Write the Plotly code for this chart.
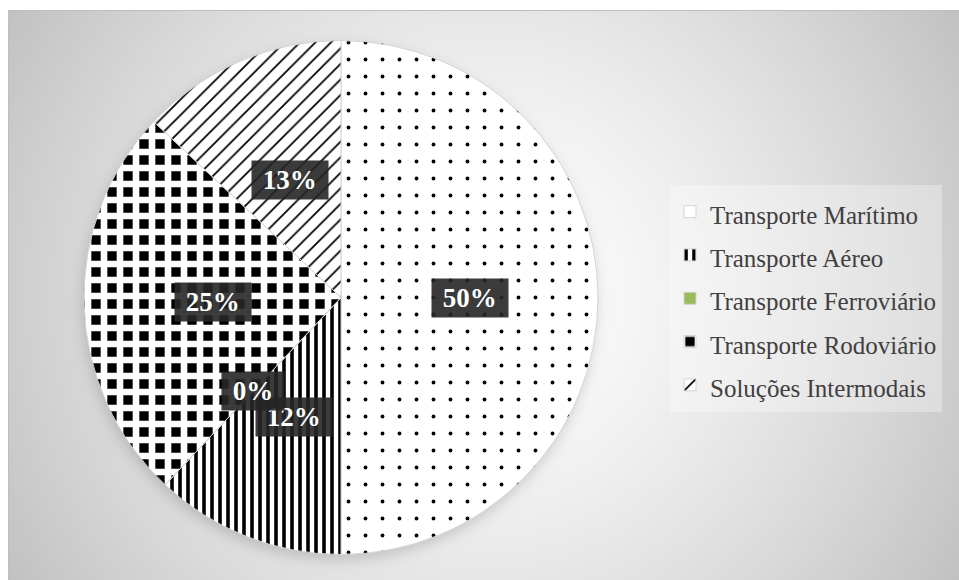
import base64
import struct
import zlib

import numpy as np
import plotly.graph_objects as go

# ---------------- data ----------------
categories = [
    "Transporte Marítimo",
    "Transporte Aéreo",
    "Transporte Ferroviário",
    "Transporte Rodoviário",
    "Soluções Intermodais",
]
shares = [50, 12, 0, 25, 13]
pct_labels = ["50%", "12%", "0%", "25%", "13%"]

# ---------------- style ----------------
W, H = 959, 580
PIE_CX, PIE_CY, PIE_R = 341, 297.5, 257

slice_colors = ["white", "white", "#9BBB59", "black", "white"]
pat_shapes = [".", "|", "", "+", "/"]
pat_fg = ["black", "black", "#9BBB59", "white", "black"]
pat_bg = ["white", "white", "#9BBB59", "black", "white"]
pat_size = [17, 8, 10, 16, 11]
pat_solid = [0.04, 0.45, 0.3, 0.66, 0.16]


def make_background():
    yy, xx = np.mgrid[0:H, 0:W].astype(float)
    d = np.hypot(xx - 483, yy - 295) / 554.0
    g = 255 - 62 * np.clip(d, 0, 1.2) ** 1.4
    # soft drop shadow under the pie
    ds = np.hypot(xx - (PIE_CX - 2), yy - (PIE_CY + 5)) - PIE_R
    sh = 1.0 / (1.0 + np.exp(np.clip(ds / 4.0, -50, 50)))
    g = g * (1 - 0.16 * sh)
    img = np.clip(np.round(g), 0, 255)
    img[:, :8] = 255
    img[:10, :] = 255
    img[10, 8:] = 190
    img[10:, 8] = 190
    return img.astype(np.uint8)


def png_gray(a):
    h, w = a.shape
    ai = a.astype(np.int16)
    sub = np.empty_like(ai)
    sub[:, 0] = ai[:, 0]
    sub[:, 1:] = (ai[:, 1:] - ai[:, :-1]) % 256
    raw = np.hstack([np.ones((h, 1), np.uint8), sub.astype(np.uint8)]).tobytes()

    def chunk(t, data):
        c = struct.pack(">I", len(data)) + t + data
        return c + struct.pack(">I", zlib.crc32(t + data) & 0xFFFFFFFF)

    ihdr = struct.pack(">IIBBBBB", w, h, 8, 0, 0, 0, 0)
    return (b"\x89PNG\r\n\x1a\n" + chunk(b"IHDR", ihdr)
            + chunk(b"IDAT", zlib.compress(raw, 9)) + chunk(b"IEND", b""))


bg_uri = "data:image/png;base64," + base64.b64encode(png_gray(make_background())).decode()

legend_labels = [f'<span style="font-size:25px">{c}</span>' for c in categories]

fig = go.Figure()
fig.add_trace(go.Pie(
    labels=legend_labels,
    values=shares,
    sort=False,
    direction="clockwise",
    rotation=0,
    textinfo="none",
    hoverinfo="label+percent",
    marker=dict(
        colors=slice_colors,
        line=dict(color="#d4d4d4", width=1),
        pattern=dict(shape=pat_shapes, fgcolor=pat_fg, bgcolor=pat_bg,
                     size=pat_size, solidity=pat_solid, fillmode="replace"),
    ),
    domain=dict(
        x=[(PIE_CX - PIE_R) / W, (PIE_CX + PIE_R) / W],
        y=[1 - (PIE_CY + PIE_R) / H, 1 - (PIE_CY - PIE_R) / H],
    ),
))

# data labels (dark boxes) placed at half radius on each slice's mid-angle
total = float(sum(shares))
cum = 0.0
annotations = []
for v, t in zip(shares, pct_labels):
    mid = (cum + v / 2.0) / total * 2 * np.pi
    cum += v
    px = PIE_CX + 0.5 * PIE_R * np.sin(mid)
    py = PIE_CY - 0.5 * PIE_R * np.cos(mid)
    annotations.append(dict(
        text=f"<b>\u00a0{t}\u00a0</b>",
        x=px / W, y=1 - py / H, xref="paper", yref="paper",
        showarrow=False, borderpad=4,
        xanchor="center", yanchor="middle",
        bgcolor="rgba(38,38,38,0.9)",
        font=dict(family="Liberation Serif", size=27, color="white"),
    ))

fig.update_layout(
    width=W, height=H,
    margin=dict(l=0, r=0, t=0, b=0),
    paper_bgcolor="white",
    plot_bgcolor="rgba(0,0,0,0)",
    images=[dict(source=bg_uri, xref="paper", yref="paper", x=0, y=1,
                 sizex=1, sizey=1, xanchor="left", yanchor="top",
                 sizing="stretch", layer="below")],
    showlegend=True,
    legend=dict(
        x=670 / W, y=1 - 185 / H, xanchor="left", yanchor="top",
        font=dict(family="Liberation Serif", size=31, color="#404040"),
        bgcolor="rgba(255,255,255,0.3)",
        itemclick=False,
    ),
    annotations=annotations,
)

fig.write_html("out.html")
